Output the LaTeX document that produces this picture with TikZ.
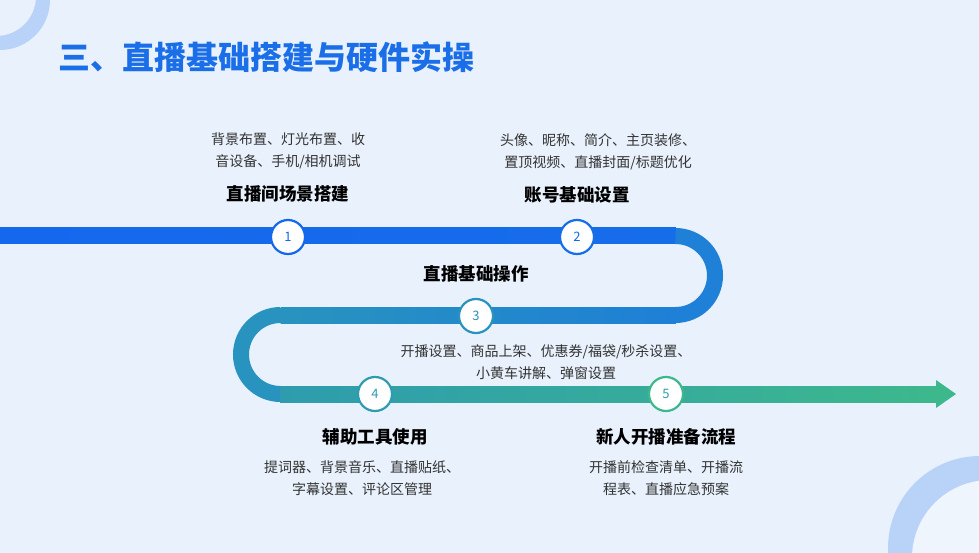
\documentclass[tikz,border=0pt]{standalone}
\usepackage{fontspec}
\setmainfont{Noto Sans CJK SC}
\usetikzlibrary{positioning}
\definecolor{bgBlue}{HTML}{E8F1FC}
\definecolor{titleBlue}{HTML}{1A6FE8}
\definecolor{stepA}{HTML}{1468EE}
\definecolor{stepB}{HTML}{1E80D6}
\definecolor{stepC}{HTML}{2893BF}
\definecolor{stepD}{HTML}{2E9CAE}
\definecolor{stepE}{HTML}{3DB88C}
\definecolor{descGray}{HTML}{333333}
\definecolor{ringBlue}{HTML}{B9D3F8}
\begin{document}
\begin{tikzpicture}
[
x=1pt,y=-1pt,
band/.style={line width=16pt},
stepnode/.style={circle,minimum size=34pt,inner sep=0pt,fill=white,line width=2.2pt,font=\fontsize{13}{13}\selectfont},
head/.style={font=\bfseries\fontsize{17.5}{20}\selectfont,text=black},
desc/.style={align=center,font=\fontsize{14}{22}\selectfont,text=descGray},
]

% Background
\fill[bgBlue] (0,0) rectangle (979,553);
\useasboundingbox (0,0) rectangle (979,553);
\fill[ringBlue] (0,0) circle (50);
\fill[bgBlue] (-4,-4) circle (40);
\fill[ringBlue] (980,548) circle (92);
\fill[bgBlue!70!white] (990,558) circle (78);

% Title
\node[anchor=west,font=\bfseries\fontsize{32}{34}\selectfont,text=titleBlue] (title) at (55,57) {三、直播基础搭建与硬件实操};

% Track
\shade[left color=stepA,right color=stepA!80!stepB] (0,228) rectangle (676,244);
\draw[band,stepB] (675.5,236) arc (-90:90:39.5);
\shade[left color=stepC,right color=stepB] (280.5,307) rectangle (676,323);
\draw[band,stepC] (280.5,315) arc (-90:-270:39.5);
\shade[left color=stepD,right color=stepE] (280,386) rectangle (938,402);
\fill[stepE] (936,380) -- (956,394) -- (936,408) -- cycle;

% Steps
\node[stepnode,draw=stepA,text=stepA] (s1) at (288,237) {1};
\node[stepnode,draw=stepA!70!stepB,text=stepA] (s2) at (577,237) {2};
\node[stepnode,draw=stepC,text=stepC] (s3) at (476,316) {3};
\node[stepnode,draw=stepD,text=stepD] (s4) at (375,394) {4};
\node[stepnode,draw=stepE,text=stepD] (s5) at (666,394) {5};

% Labels
\node[head] (h1) at (288,194) {直播间场景搭建};
\node[desc] (d1) at (288,151) {背景布置、灯光布置、收\\音设备、手机/相机调试};
\node[head] (h2) at (577,195) {账号基础设置};
\node[desc] (d2) at (598,152) {头像、昵称、简介、主页装修、\\置顶视频、直播封面/标题优化};
\node[head] (h3) at (476,274) {直播基础操作};
\node[desc] (d3) at (546,362) {开播设置、商品上架、优惠券/福袋/秒杀设置、\\小黄车讲解、弹窗设置};
\node[head] (h4) at (375,437) {辅助工具使用};
\node[desc] (d4) at (362,478) {提词器、背景音乐、直播贴纸、\\字幕设置、评论区管理};
\node[head] (h5) at (666,437) {新人开播准备流程};
\node[desc] (d5) at (666,478) {开播前检查清单、开播流\\程表、直播应急预案};

\end{tikzpicture}
\end{document}
